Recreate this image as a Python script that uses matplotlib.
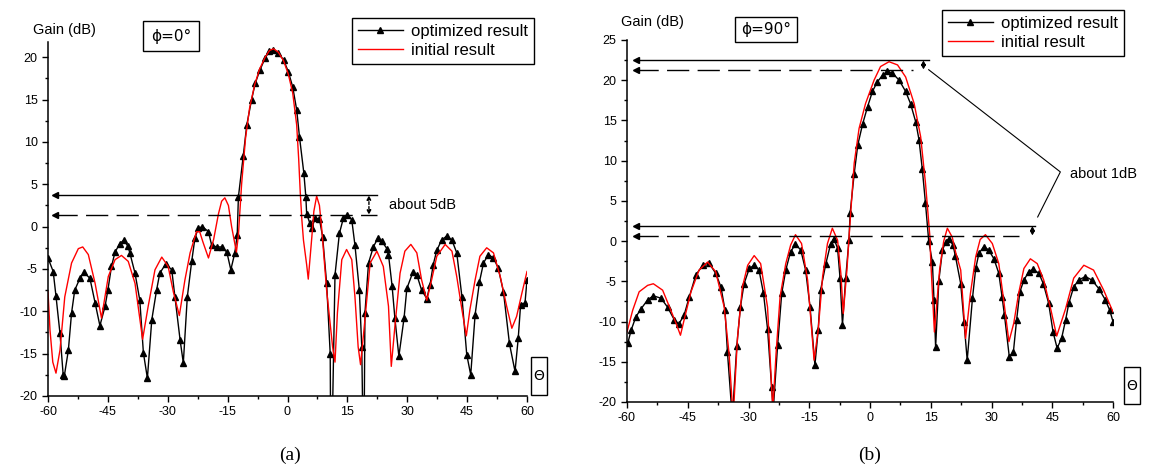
import matplotlib
matplotlib.use("Agg")
import matplotlib.pyplot as plt
from matplotlib.patches import Rectangle
from matplotlib.ticker import MultipleLocator

plt.rcParams['font.family'] = ['Liberation Sans', 'DejaVu Sans']
plt.rcParams['axes.unicode_minus'] = False

# ---- panel (a), phi = 0 deg ----
a_opt_theta = [-60, -58.7, -58.0, -57.0, -56.2, -55.9, -54.9, -54.1, -53.3, -52.0, -51.0, -49.5, -48.2,
               -47.0, -45.7, -45.0, -44.1, -43.2, -42.0, -41.0, -40.0, -39.5, -38.2, -37.0, -36.1,
               -35.1, -34.0, -32.8, -32.0, -30.5, -29.0, -28.2, -26.9, -26.1, -25.1, -24.0, -23.2,
               -22.4, -21.3, -19.8, -19.0, -17.7, -16.5, -15.2, -14.2, -13.2, -12.6, -12.3, -11.1,
               -10.2, -9.0, -8.1, -6.9, -5.6, -4.6, -3.6, -2.3, -1.0, 0.2, 1.3, 2.3, 3.0, 4.1, 4.6,
               4.8, 5.6, 6.1, 6.9, 8.0, 8.8, 9.8, 10.7, 10.8, 11.2, 11.9, 13.0, 14.0, 15.0, 16.1,
               16.9, 18.0, 18.6, 18.9, 19.2, 19.4, 20.3, 21.5, 22.6, 23.6, 24.9, 25.3, 26.2, 26.9,
               27.9, 29.2, 29.9, 31.4, 32.4, 33.6, 34.9, 35.7, 36.5, 37.4, 38.6, 39.9, 41.2, 42.4,
               43.7, 44.9, 45.9, 47.0, 48.1, 49.1, 50.3, 51.6, 52.8, 54.1, 55.6, 57.0, 57.8, 58.4,
               59.5, 60]
a_opt_gain = [-3.7, -5.3, -8.2, -12.6, -17.5, -17.6, -14.6, -10.2, -7.5, -6.1, -5.4, -6.1, -9.0,
              -11.7, -9.4, -7.5, -4.7, -3.0, -2.0, -1.6, -2.3, -3.1, -5.5, -8.7, -14.9,
              -17.9, -11.0, -7.5, -5.5, -4.4, -5.1, -8.3, -13.4, -16.1, -8.3, -4.1, -1.4,
              -0.2, 0.0, -0.6, -2.2, -2.4, -2.4, -3.0, -5.1, -3.1, -1.0, 3.5, 8.3,
              12.0, 15.0, 16.9, 18.5, 19.9, 20.7, 20.9, 20.5, 19.7, 18.3, 16.5, 13.8, 10.6, 6.3, 3.5,
              1.5, 0.4, -0.2, 1.0, 0.9, -1.2, -6.7, -15.0, -24, -24, -5.7, -0.8, 1.0, 1.4, 0.8,
              -2.2, -7.5, -14.2, -24, -24, -10.2, -4.3, -2.4, -1.4, -1.7, -2.6, -3.3, -7.0, -10.8,
              -15.3, -10.8, -7.3, -5.4, -5.7, -7.5, -8.5, -6.9, -4.5, -2.8, -1.6, -1.1, -1.6, -3.1,
              -8.3, -15.1, -17.5, -10.4, -6.5, -4.3, -3.3, -3.7, -4.9, -7.7, -13.8, -17.1, -13.2, -9.2,
              -9.0, -6.3]

a_ini_theta = [-60, -59.5, -58.8, -58.0, -57.0, -55.8, -54.1, -52.4, -51.3, -49.9, -48.2, -46.6, -44.9,
               -43.2, -41.6, -39.9, -38.2, -36.3, -34.9, -33.2, -31.5, -29.9, -28.6, -27.1, -25.7,
               -24.4, -22.8, -22.0, -21.2, -19.8, -18.5, -17.3, -16.5, -15.7, -14.8, -14.0, -13.2,
               -12.8, -12.3, -11.5, -10.5, -9.5, -8.2, -7.0, -5.6, -4.5, -3.5, -2.3, -1.0, 0.2, 1.3,
               2.3, 2.8, 3.2, 3.6, 4.0, 4.8, 5.2, 5.6, 6.1, 6.6, 7.3, 8.0, 8.6, 9.8, 11.3, 11.9, 12.5,
               13.6, 14.8, 16.1, 16.9, 17.7, 18.3, 19.4, 20.7, 22.4, 24.0, 25.3, 26.0, 26.9, 28.2,
               29.4, 30.9, 32.4, 33.6, 34.9, 36.1, 37.4, 39.5, 41.2, 42.4, 43.7, 44.8, 45.7, 47.0,
               48.2, 49.9, 51.6, 53.3, 54.9, 56.2, 57.4, 58.7, 60]
a_ini_gain = [-7.7, -12.2, -16.0, -17.3, -14.6, -8.3, -4.3, -2.6, -2.4, -3.3, -6.7, -10.8, -5.9,
              -3.9, -3.4, -4.1, -6.7, -13.3, -9.4, -5.1, -3.6, -4.7, -7.7, -10.5, -6.3,
              -3.1, -0.6, -0.6, -1.8, -3.7, -1.5, 1.5, 3.0, 3.4, 2.5, 0.0, -2.0,
              -3.0, -1.0, 5.0, 10.5, 14.0, 16.8, 18.6, 20.0, 20.8, 21.0, 20.6, 19.6, 18.0, 15.8,
              12.0, 8.0, 4.0, 0.8, -1.6, -4.5, -6.2, -4.0, -1.2, 1.8, 3.6, 2.5, -0.4, -7.5, -14.2, -16.0, -10.2,
              -3.9, -2.7, -3.9, -8.3, -14.2, -16.3, -11.0, -4.3, -2.9, -4.7, -9.4, -16.5, -11.8, -5.5,
              -2.9, -2.1, -3.1, -6.3, -8.7, -6.3, -3.5, -2.1, -2.9, -5.9, -9.8, -12.9, -9.8, -6.3,
              -3.5, -2.5, -3.1, -5.9, -9.4, -12.0, -10.6, -7.9, -5.3]

# ---- panel (b), phi = 90 deg ----
b_opt_theta = [-59.8, -59.0, -57.8, -56.5, -54.9, -53.5, -51.6, -50.0, -48.3, -47.2, -45.9, -44.6,
               -43.0, -41.3, -39.8, -38.1, -36.8, -35.8, -35.2, -34.0, -32.9, -32.0, -31.1, -29.8,
               -28.6, -27.4, -26.3, -25.3, -24.3, -23.9, -22.8, -21.8, -20.8, -19.6, -18.4, -17.1,
               -15.9, -14.8, -13.6, -12.8, -12.2, -10.9, -9.7, -8.9, -8.0, -7.4, -6.8, -6.0, -5.2,
               -4.9, -3.9, -3.0, -1.8, -0.6, 0.6, 1.8, 3.1, 4.3, 5.5, 7.2, 8.8, 10.0, 11.3, 12.1,
               12.9, 13.7, 14.5, 15.4, 15.8, 16.2, 17.0, 17.9, 18.7, 19.5, 20.5, 21.1, 22.4, 23.2,
               24.0, 25.3, 26.1, 26.9, 28.1, 29.3, 30.6, 31.8, 32.6, 33.2, 34.4, 35.4, 36.2, 37.0,
               38.0, 39.2, 40.3, 41.7, 42.8, 44.1, 45.2, 46.2, 47.3, 48.3, 49.1, 50.3, 51.5, 53.2,
               54.8, 56.5, 58.1, 59.2, 60]
b_opt_gain = [-12.7, -11.1, -9.4, -8.4, -7.3, -6.8, -7.1, -8.2, -9.8, -10.3, -9.2, -6.9,
              -4.2, -3.0, -2.7, -4.0, -5.7, -8.6, -13.8, -22, -13.1, -8.2, -5.3, -3.4,
              -3.0, -3.6, -6.5, -10.9, -18.1, -21, -12.9, -6.5, -3.6, -1.3, -0.4, -1.1,
              -3.6, -8.2, -15.4, -11.1, -6.1, -2.8, -0.3, 0.3, -0.9, -4.6, -10.4, -4.6, 0.1,
              3.5, 8.4, 12.0, 14.6, 16.7, 18.6, 19.8, 20.6, 21.1, 20.9, 20.0, 18.6, 17.1, 14.8, 12.6,
              9.0, 4.7, 0.0, -2.6, -7.3, -13.2, -4.9, -1.1, -0.1, 0.3, -0.5, -1.9, -5.3, -10.0,
              -14.8, -7.1, -3.4, -1.5, -0.7, -1.1, -2.2, -4.0, -6.9, -9.2, -14.4, -13.8, -9.8, -6.3,
              -4.85, -3.8, -3.5, -4.0, -5.3, -7.7, -11.3, -13.3, -12.1, -9.8, -7.7, -5.7, -4.85, -4.4,
              -4.85, -5.9, -7.3, -8.6, -10.0]

b_ini_theta = [-60, -58.6, -57.0, -54.9, -53.5, -51.2, -49.5, -47.9, -46.8, -45.9, -44.2, -42.2, -40.1,
               -38.1, -36.0, -34.8, -33.8, -32.7, -31.5, -30.2, -28.6, -27.0, -25.3, -24.2, -24.0,
               -23.2, -22.2, -20.8, -19.6, -18.4, -16.9, -15.4, -13.8, -12.8, -11.7, -10.5, -9.3,
               -8.0, -7.2, -6.6, -5.7, -5.0, -3.9, -2.7, -1.1, 1.0, 2.6, 4.7, 6.8, 8.8, 10.9, 12.5,
               13.7, 14.8, 15.0, 15.9, 17.2, 18.2, 19.1, 20.3, 21.2, 22.4, 23.6, 24.8, 26.1, 27.2,
               28.5, 30.2, 31.8, 33.0, 34.3, 35.5, 36.7, 38.0, 39.6, 41.3, 42.9, 44.6, 46.1, 48.3,
               50.3, 52.8, 55.2, 57.7, 60]
b_ini_gain = [-11.3, -8.6, -6.3, -5.5, -5.3, -6.1, -8.2, -10.2, -11.7, -9.8, -6.3, -3.6, -2.6,
              -3.8, -8.2, -14.0, -22, -11.9, -5.7, -3.0, -1.8, -2.8, -8.2, -19.0, -21,
              -14.0, -6.9, -2.8, -0.5, 0.8, -0.3, -4.85, -14.8, -11.1, -4.4, -0.3, 1.6,
              0.1, -4.0, -9.0, -3.6, 1.8, 9.7, 14.0, 17.1, 20.0, 21.7, 22.3, 21.9, 20.4, 17.1, 13.0,
              7.2, 0.5, -2.4, -11.3, -3.5, 0.0, 1.6, 0.5, -1.5, -3.6, -12.1, -6.5, -1.95, 0.2,
              0.8, -0.3, -2.8, -7.3, -12.5, -10.2, -6.5, -3.4, -2.2, -2.8, -4.85, -8.4, -11.8, -8.4,
              -4.6, -3.0, -3.6, -6.1, -8.8]

W, H = 1162, 470
fig = plt.figure(figsize=(W / 100, H / 100), dpi=100)


def px(x, y):
    # pixel position in the picture -> figure fraction
    return x / W, 1 - y / H


def setup(ax, ytop):
    for s in ['top', 'right']:
        ax.spines[s].set_visible(False)
    for s in ['left', 'bottom']:
        ax.spines[s].set_linewidth(1.1)
    ax.xaxis.set_major_locator(MultipleLocator(15))
    ax.xaxis.set_minor_locator(MultipleLocator(7.5))
    ax.yaxis.set_major_locator(MultipleLocator(5))
    ax.yaxis.set_minor_locator(MultipleLocator(2.5))
    ax.tick_params(which='major', direction='out', length=4, width=1, labelsize=9)
    ax.tick_params(which='minor', direction='out', length=2.5, width=1)
    ax.set_xlim(-60, 60)
    ax.set_ylim(-20, ytop)


def curves(ax, th_o, g_o, th_i, g_i):
    ax.plot(th_o, g_o, color='black', lw=1, marker='^', ms=3.8, label='optimized result')
    ax.plot(th_i, g_i, color='red', lw=1, label='initial result')


def level(ax, x0, x1, y, dashed):
    ls = dict(dashes=(16, 6)) if dashed else {}
    ax.plot([x0, x1], [y, y], color='black', lw=1, clip_on=False, **ls)
    ax.plot([x0], [y], marker='<', color='black', ms=4, clip_on=False)


def gap(ax, x, y0, y1):
    ax.annotate('', xy=(x, y0), xytext=(x, y1),
                arrowprops=dict(arrowstyle='<|-|>', lw=1, ls=(0, (2, 1.5)), color='black',
                                mutation_scale=6, shrinkA=0, shrinkB=0))


def framed(x, y, w, h, s, size):
    fig.patches.append(Rectangle(px(x, y + h), w / W, h / H, transform=fig.transFigure,
                                 fill=False, edgecolor='black', lw=1))
    cx, cy = px(x + w / 2, y + h / 2)
    fig.text(cx, cy, s, ha='center', va='center', fontsize=size, family=['DejaVu Sans'])


def legend(ax, x, y):
    leg = ax.legend(loc='upper left', bbox_to_anchor=px(x, y), bbox_transform=fig.transFigure,
                    fontsize=12, frameon=True, fancybox=False, edgecolor='black', framealpha=1,
                    borderaxespad=0, borderpad=0.35, labelspacing=0.25, handlelength=2.7,
                    handletextpad=0.5)
    leg.get_frame().set_linewidth(1)


# panel (a)
ax1 = fig.add_axes([48 / W, 1 - 396 / H, 479 / W, 354 / H])
curves(ax1, a_opt_theta, a_opt_gain, a_ini_theta, a_ini_gain)
setup(ax1, 21.8)
level(ax1, -58.3, 22.4, 3.7, False)
level(ax1, -58.3, 22.4, 1.4, True)
gap(ax1, 20.4, 1.4, 3.7)
ax1.text(25.4, 2.6, 'about 5dB', fontsize=10.5, va='center')
legend(ax1, 352, 18)

# panel (b)
ax2 = fig.add_axes([627 / W, 1 - 402 / H, 486 / W, 362 / H])
curves(ax2, b_opt_theta, b_opt_gain, b_ini_theta, b_ini_gain)
setup(ax2, 25)
level(ax2, -57.8, 14.5, 22.5, False)
level(ax2, -57.8, 10.5, 21.3, True)
level(ax2, -57.8, 40.8, 1.9, False)
level(ax2, -57.8, 36.7, 0.66, True)
gap(ax2, 13.2, 21.3, 22.5)
gap(ax2, 40.1, 0.66, 1.9)
ax2.plot([14.5, 47.0, 41.4], [21.3, 8.6, 3.0], color='black', lw=0.8, clip_on=False)
ax2.text(49.3, 8.4, 'about 1dB', fontsize=10.5, va='center')
legend(ax2, 942, 10)

# axis titles and boxed labels
fig.text(*px(33, 30), 'Gain (dB)', fontsize=10.5, va='center')
fig.text(*px(621, 22), 'Gain (dB)', fontsize=10.5, va='center')
framed(143, 21, 56, 30, 'ϕ=0°', 11)
framed(735, 17, 62, 25, 'ϕ=90°', 11)
framed(531, 357, 16, 38, 'Θ', 10)
framed(1124, 367, 16, 37, 'Θ', 10)

fig.text(*px(290, 455), '(a)', fontsize=14, ha='center', va='center', family='Liberation Serif')
fig.text(*px(870, 455), '(b)', fontsize=14, ha='center', va='center', family='Liberation Serif')

fig.savefig('out.png', dpi=100)
